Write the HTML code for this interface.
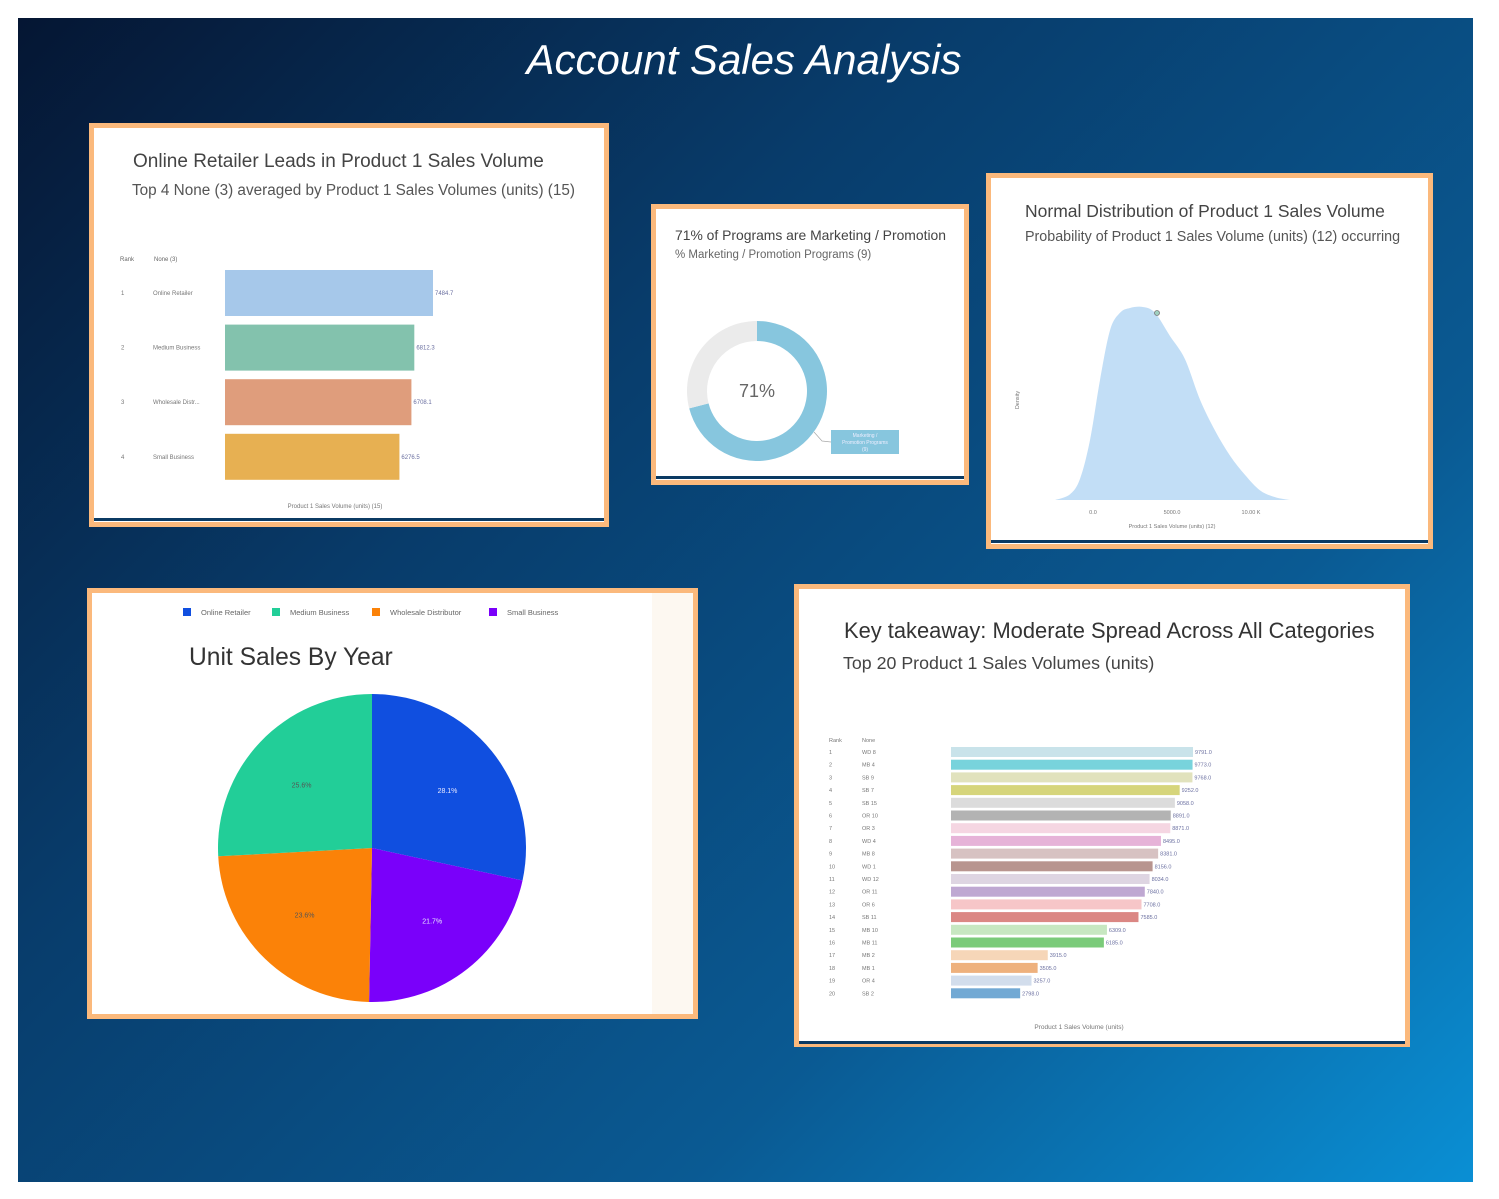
<!DOCTYPE html>
<html><head><meta charset="utf-8"><style>
body{margin:0;width:1499px;height:1199px;background:#fff;position:relative;overflow:hidden;font-family:"Liberation Sans",sans-serif}
#bg{position:absolute;left:18px;top:18px;width:1455px;height:1164px;background:linear-gradient(135deg,#051633 0%,#083c6b 35%,#0a5a93 70%,#0a8fd4 100%)}
.panel{position:absolute;border:5px solid #fbb97c;background:#fff;box-sizing:border-box}
.bl{position:absolute;left:0;right:0;height:3px;background:#0b3a63}
.t{position:absolute;color:#444;white-space:nowrap}
svg{position:absolute;left:0;top:0}
</style></head><body>
<div id="bg"></div>
<div class="t" style="left:0;width:1488px;text-align:center;top:36px;font-size:42px;font-style:italic;color:#fff">Account Sales Analysis</div>

<div class="panel" style="left:89px;top:123px;width:520px;height:404px">
 <div class="t" style="left:39px;top:23px;font-size:19px">Online Retailer Leads in Product 1 Sales Volume</div>
 <div class="t" style="left:38px;top:54px;font-size:15.3px;color:#555">Top 4 None (3) averaged by Product 1 Sales Volumes (units) (15)</div>
 <div class="bl" style="top:390px"></div>
</div>
<div class="panel" style="left:651px;top:204px;width:318px;height:281px">
 <div class="t" style="left:19px;top:18px;font-size:13.9px">71% of Programs are Marketing / Promotion</div>
 <div class="t" style="left:19px;top:40px;font-size:11.5px;color:#666">% Marketing / Promotion Programs (9)</div>
 <div class="bl" style="top:267px"></div>
</div>
<div class="panel" style="left:986px;top:173px;width:447px;height:376px">
 <div class="t" style="left:34px;top:23px;font-size:17.5px">Normal Distribution of Product 1 Sales Volume</div>
 <div class="t" style="left:34px;top:51px;font-size:14.3px;color:#555">Probability of Product 1 Sales Volume (units) (12) occurring</div>
 <div class="bl" style="top:362px"></div>
</div>
<div class="panel" style="left:87px;top:588px;width:611px;height:431px">
 <div style="position:absolute;left:560px;top:0;width:41px;height:421px;background:#fdf8f1"></div>
 <div class="t" style="left:97px;top:51px;font-size:24.6px;color:#333">Unit Sales By Year</div>
</div>
<div class="panel" style="left:794px;top:584px;width:616px;height:463px">
 <div class="t" style="left:45px;top:29px;font-size:21.9px;color:#333">Key takeaway: Moderate Spread Across All Categories</div>
 <div class="t" style="left:44px;top:64px;font-size:17.8px;color:#444">Top 20 Product 1 Sales Volumes (units)</div>
 <div class="bl" style="top:452px"></div>
</div>

<svg id="chart" width="1499" height="1199" font-family="Liberation Sans, sans-serif"></svg>

<script>
const top4Names=["Online Retailer","Medium Business","Wholesale Distr...","Small Business"];
const top4Values=[7484.7,6812.3,6708.1,6276.5];
const top4Colors=["#a6c8ea","#83c2ad","#df9d7c","#e7b052"];

const donutPct=[71];

const densX=[-2400,-1450,-820,-190,440,1080,1710,2340,3160,3920,4870,5820,6770,7720,8670,9620,10570,11520,12470];
const densY=[0,0.03,0.11,0.31,0.62,0.88,0.97,0.995,1,0.97,0.85,0.73,0.52,0.36,0.23,0.13,0.05,0.015,0];
const densTicks=[0,5000,10000];
const densTickLabels=["0.0","5000.0","10.00 K"];

const pieNames=["Online Retailer","Small Business","Wholesale Distributor","Medium Business"];
const pieValues=[28.1,21.7,23.6,25.6];
const pieColors=["#104fe0","#7a00fa","#fb8208","#22ce98"];
const legendNames=["Online Retailer","Medium Business","Wholesale Distributor","Small Business"];
const legendColors=["#104fe0","#22ce98","#fb8208","#7a00fa"];

const t20Names=["WD 8","MB 4","SB 9","SB 7","SB 15","OR 10","OR 3","WD 4","MB 8","WD 1","WD 12","OR 11","OR 6","SB 11","MB 10","MB 11","MB 2","MB 1","OR 4","SB 2"];
const t20Values=[9791,9773,9768,9252,9058,8891,8871,8495,8381,8156,8034,7840,7708,7585,6309,6185,3915,3505,3257,2798];
const t20Colors=["#c9e3ea","#78d3dc","#e1e2bd","#d6d57b","#dcdcdc","#b3b3b3","#f5d6e2","#e6b3d8","#d7c2c2","#b8958f","#ded5e2","#bfa8d2","#f6c6c8","#db8784","#c7e7c1","#7bcb7a","#f6d6b8","#eeb17d","#d2ddec","#72a9d4"];

const svg=document.getElementById('chart');
const NS='http://www.w3.org/2000/svg';
function mk(tag,attrs,text){const e=document.createElementNS(NS,tag);for(const k in attrs)e.setAttribute(k,attrs[k]);if(text!==undefined)e.textContent=text;svg.appendChild(e);return e;}

// top 4 bar
{
 const x0=225,sc=208/7484.7,y0=270,step=54.6,h=46;
 const xs=v=>x0+v*sc, ys=i=>y0+i*step;
 let e=mk('text',{x:120,y:261,'font-size':6,fill:'#666'},'Rank');
 
 
 e=mk('text',{x:154,y:261,'font-size':6,fill:'#666'},'None (3)');
 
 
 top4Values.forEach((v,i)=>{
  let r=mk('rect',{x:x0,y:ys(i),width:xs(v)-x0,height:h,fill:top4Colors[i]});
  
  
  let a=mk('text',{x:121,y:ys(i)+h/2+2,'font-size':6,fill:'#777'},String(i+1));
  
  
  let b=mk('text',{x:153,y:ys(i)+h/2+2,'font-size':6,fill:'#777'},top4Names[i]);
  
  
  let c=mk('text',{x:xs(v)+2,y:ys(i)+h/2+2,'font-size':6,fill:'#6a6fa0'},v.toFixed(1));
  
  
 });
 e=mk('text',{x:335,y:508,'font-size':6,fill:'#777','text-anchor':'middle'},'Product 1 Sales Volume (units) (15)');
 
 
}

// donut
{
 const cx=757,cy=391,R=70,r=50,p=donutPct[0]/100;
 function arc(a0,a1,col,name){
  const P=(rad,a)=>[cx+rad*Math.sin(a),cy-rad*Math.cos(a)];
  const [x1,y1]=P(R,a0),[x2,y2]=P(R,a1),[x3,y3]=P(r,a1),[x4,y4]=P(r,a0);
  const lg=(a1-a0)>Math.PI?1:0;
  const e=mk('path',{d:`M${x1},${y1}A${R},${R} 0 ${lg} 1 ${x2},${y2}L${x3},${y3}A${r},${r} 0 ${lg} 0 ${x4},${y4}Z`,fill:col});
  
  
 }
 arc(0,p*2*Math.PI,'#87c6de','donut-marketing-slice');
 arc(p*2*Math.PI,2*Math.PI,'#ebebeb','donut-other-slice');
 let e=mk('text',{x:cx,y:cy+6,'font-size':18,fill:'#666','text-anchor':'middle'},Math.round(donutPct[0])+'%');
 
 
 mk('path',{d:'M814,432 L822,441 L831,442',stroke:'#aaa',fill:'none','stroke-width':0.7});
 e=mk('rect',{x:831,y:430,width:68,height:24,fill:'#87c6de'});
 
 
 ['Marketing /','Promotion Programs','(9)'].forEach((s,i)=>mk('text',{x:865,y:437+i*7,'font-size':5,fill:'#eef','text-anchor':'middle'},s));
}

// density (Catmull-Rom smoothing)
{
 const xs=v=>1093+v*0.0158, base=500, H=193, ys=d=>base-d*H;
 const pts=densX.map((x,i)=>[xs(x),ys(densY[i])]);
 let d='M'+pts[0][0]+','+base+' L'+pts[0][0]+','+pts[0][1];
 for(let i=0;i<pts.length-1;i++){
  const p0=pts[Math.max(0,i-1)],p1=pts[i],p2=pts[i+1],p3=pts[Math.min(pts.length-1,i+2)];
  const c1=[p1[0]+(p2[0]-p0[0])/6,p1[1]+(p2[1]-p0[1])/6];
  const c2=[p2[0]-(p3[0]-p1[0])/6,p2[1]-(p3[1]-p1[1])/6];
  d+=` C${c1[0]},${c1[1]} ${c2[0]},${c2[1]} ${p2[0]},${p2[1]}`;
 }
 d+=' L'+pts[pts.length-1][0]+','+base+'Z';
 let e=mk('path',{d,fill:'#c2def6'});
 
 
 e=mk('circle',{cx:1157,cy:313,r:2.5,fill:'#9fd0c0',stroke:'#777','stroke-width':0.8});
 
 
 densTicks.forEach((t,i)=>{
  const l=mk('text',{x:xs(t),y:514,'font-size':5.5,fill:'#777','text-anchor':'middle'},densTickLabels[i]);
  
  
 });
 e=mk('text',{x:1172,y:528,'font-size':5.5,fill:'#777','text-anchor':'middle'},'Product 1 Sales Volume (units) (12)');
 
 
 e=mk('text',{x:1019,y:400,'font-size':5.5,fill:'#777','text-anchor':'middle',transform:'rotate(-90 1019 400)'},'Density');
 
 
}

// pie
{
 const cx=372,cy=848,R=154,tot=pieValues.reduce((a,b)=>a+b,0);
 let a=0;
 pieValues.forEach((v,i)=>{
  const a1=a+v/tot*2*Math.PI;
  const P=ang=>[cx+R*Math.sin(ang),cy-R*Math.cos(ang)];
  const [x1,y1]=P(a),[x2,y2]=P(a1);
  const e=mk('path',{d:`M${cx},${cy}L${x1},${y1}A${R},${R} 0 ${(a1-a)>Math.PI?1:0} 1 ${x2},${y2}Z`,fill:pieColors[i]});
  
  
  const m=(a+a1)/2;
  const l=mk('text',{x:cx+0.6*R*Math.sin(m)*1.05,y:cy-0.6*R*Math.cos(m)+3,'font-size':7,fill:i===0||i===1?'#e8e8ff':'#555','text-anchor':'middle'},v.toFixed(1)+'%');
  
  
  a=a1;
 });
 const lx=[183,272,372,489];
 legendNames.forEach((n,i)=>{
  const r=mk('rect',{x:lx[i],y:608,width:8,height:8,fill:legendColors[i]});
  
  
  const t=mk('text',{x:lx[i]+18,y:615,'font-size':7.5,fill:'#666'},n);
  
  
 });
}

// top 20
{
 const x0=951,sc=242/9791,y0=747,step=12.7,h=10;
 const xs=v=>x0+v*sc, ys=i=>y0+i*step;
 let e=mk('text',{x:829,y:742,'font-size':5.5,fill:'#777'},'Rank');
 
 
 e=mk('text',{x:862,y:742,'font-size':5.5,fill:'#777'},'None');
 
 
 t20Values.forEach((v,i)=>{
  const r=mk('rect',{x:x0,y:ys(i),width:xs(v)-x0,height:h,fill:t20Colors[i]});
  
  
  const a=mk('text',{x:829,y:ys(i)+7,'font-size':5.5,fill:'#777'},String(i+1));
  
  
  const b=mk('text',{x:862,y:ys(i)+7,'font-size':5.5,fill:'#777'},t20Names[i]);
  
  
  const c=mk('text',{x:xs(v)+2,y:ys(i)+7,'font-size':5.5,fill:'#6a6fa0'},v.toFixed(1));
  
  
 });
 e=mk('text',{x:1079,y:1029,'font-size':6.5,fill:'#777','text-anchor':'middle'},'Product 1 Sales Volume (units)');
 
 
}
</script>
</body></html>
